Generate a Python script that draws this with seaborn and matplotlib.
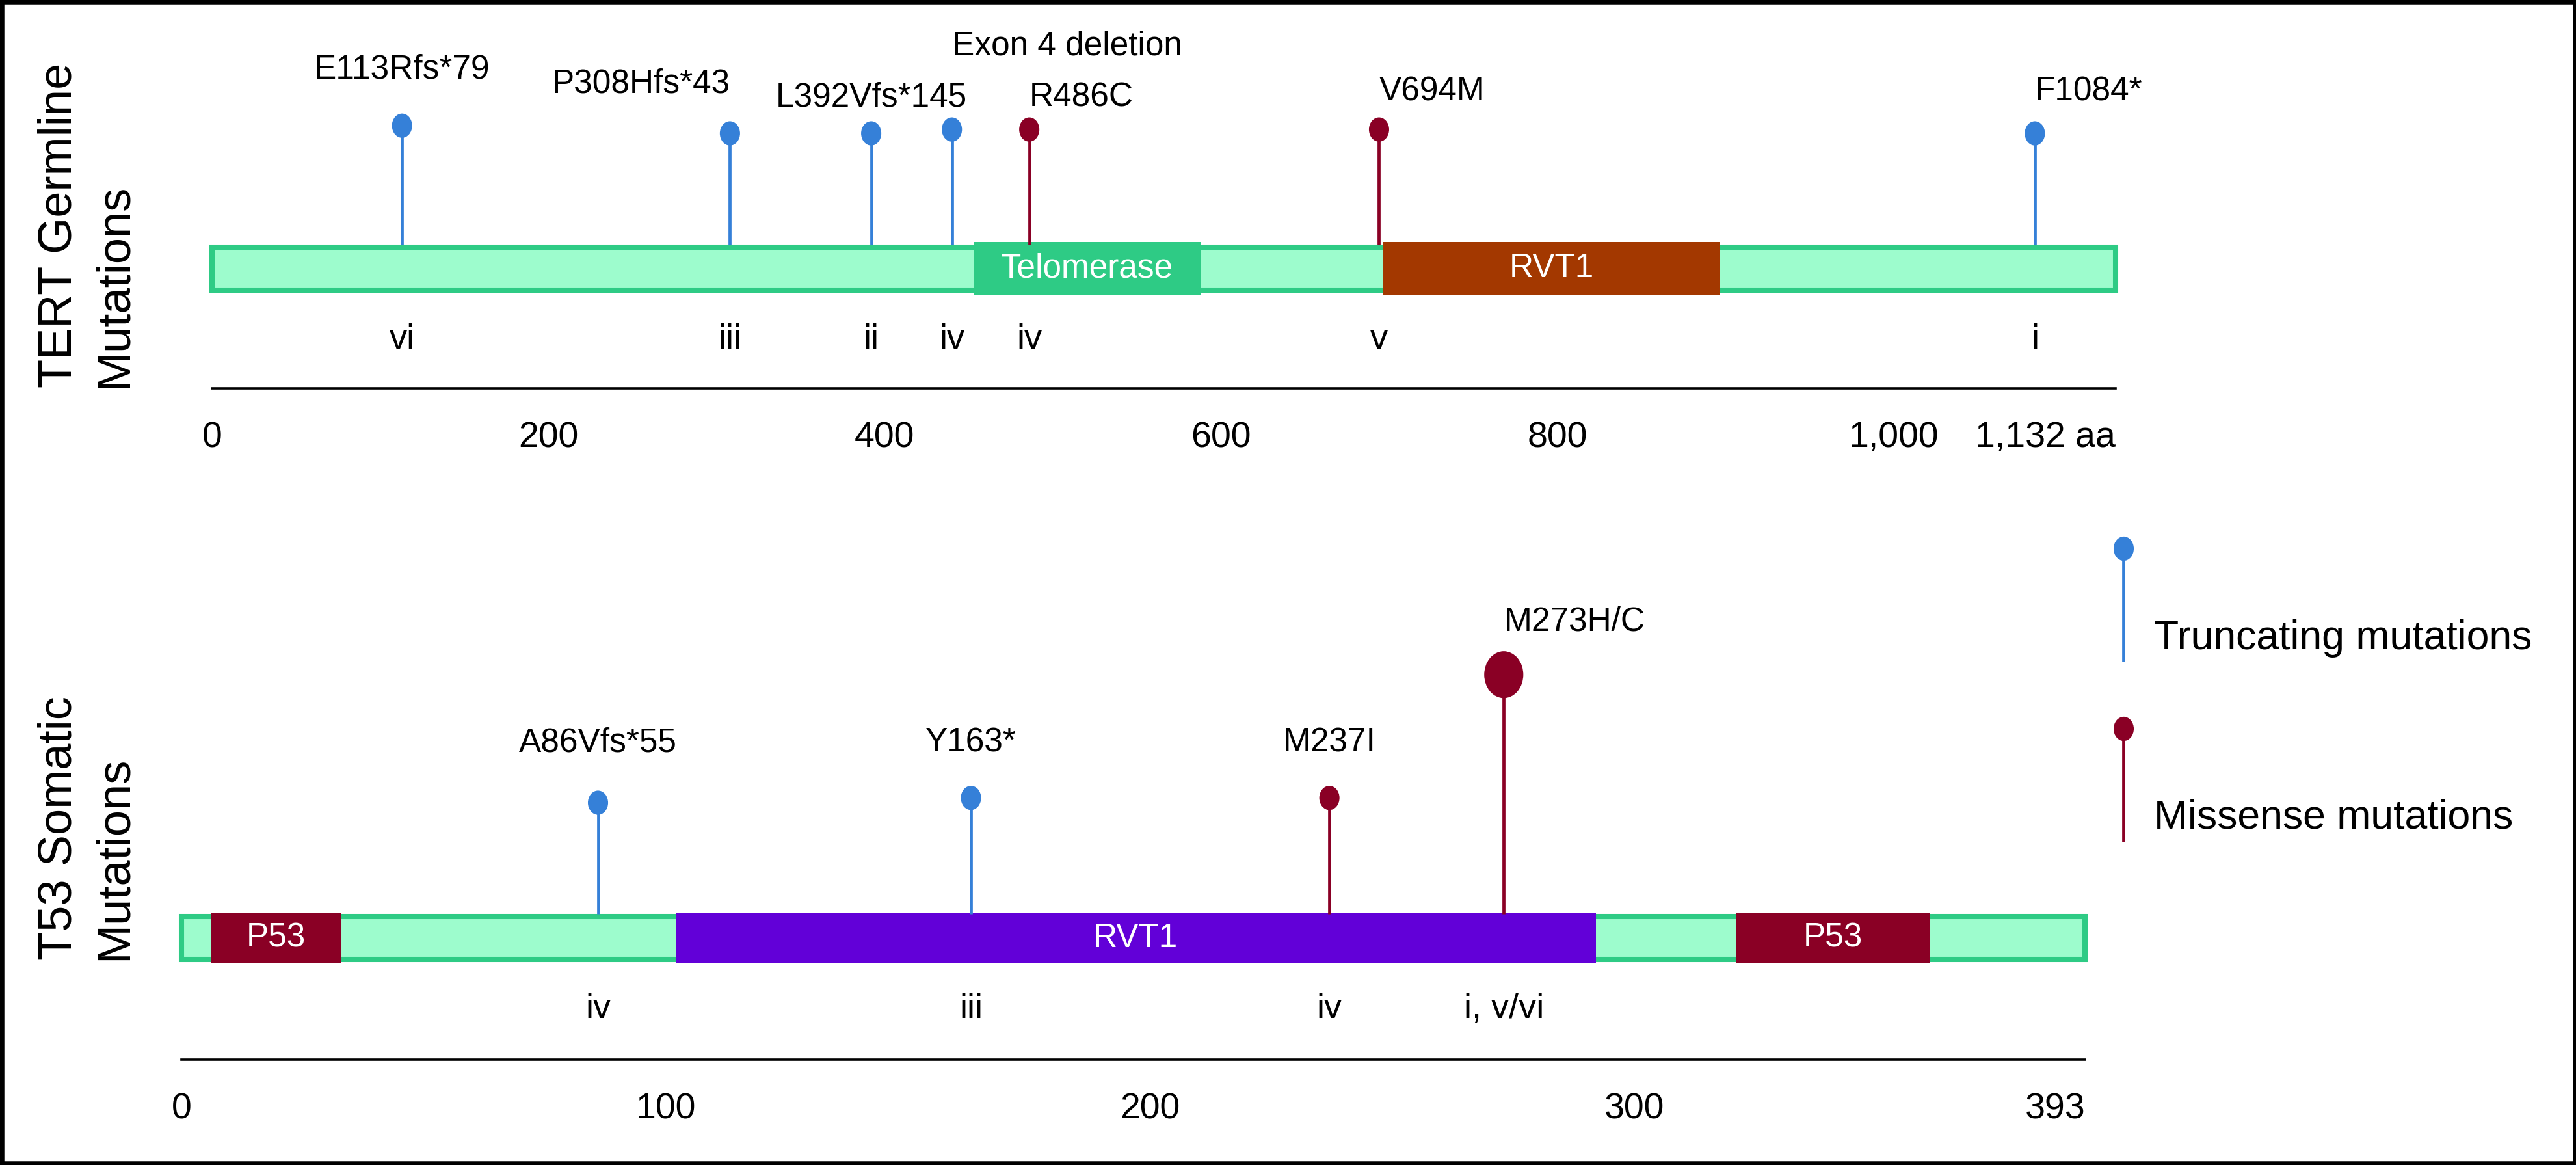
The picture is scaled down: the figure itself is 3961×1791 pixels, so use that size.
import numpy as np
import pandas as pd
import matplotlib
matplotlib.use("Agg")
import matplotlib.pyplot as plt
from matplotlib.path import Path
from matplotlib.patches import Rectangle
import seaborn as sns

# ---- TERT germline mutations ----
tert_length = 1132
tert_labels = ["E113Rfs*79", "P308Hfs*43", "L392Vfs*145", "Exon 4 deletion", "R486C", "V694M", "F1084*"]
tert_pos = [113, 308, 392, 440, 486, 694, 1084]
tert_kind = ["Truncating", "Truncating", "Truncating", "Truncating", "Missense", "Missense", "Truncating"]
tert_height = [2.97, 2.81, 2.81, 2.89, 2.89, 2.89, 2.81]
tert_head = ["small"] * 7
tert_cases = ["vi", "iii", "ii", "iv", "iv", "v", "i"]
tert_dom_names = ["Telomerase", "RVT1"]
tert_dom_start = [453, 696]
tert_dom_end = [588, 897]
tert_ticks = [0, 200, 400, 600, 800, 1000, 1132]
tert_ticklabels = ["0", "200", "400", "600", "800", "1,000", "1,132 aa"]

# ---- TP53 somatic mutations ----
tp53_length = 393
tp53_labels = ["A86Vfs*55", "Y163*", "M237I", "M273H/C"]
tp53_pos = [86, 163, 237, 273]
tp53_kind = ["Truncating", "Truncating", "Missense", "Missense"]
tp53_height = [2.81, 2.91, 2.91, 5.47]
tp53_head = ["small", "small", "small", "large"]
tp53_cases = ["iv", "iii", "iv", "i, v/vi"]
tp53_dom_names = ["P53", "RVT1", "P53"]
tp53_dom_start = [6, 102, 321]
tp53_dom_end = [33, 292, 361]
tp53_ticks = [0, 100, 200, 300, 393]
tp53_ticklabels = ["0", "100", "200", "300", "393"]

# label layout
tert_label_y = [4.14, 3.84, 3.55, 4.62, 3.55, 3.68, 3.68]
tert_label_ha = ["center", "right", "center", "left", "left", "left", "left"]
tp53_label_y = [4.05, 4.05, 4.05, 6.57]
tp53_label_ha = ["center", "center", "center", "left"]

PAL = {"Truncating": "#3580D8", "Missense": "#8A0025"}
FILL, EDGE = "#9DFCCD", "#2ECB85"
tert_dom_colors = [EDGE, "#A33800"]
tp53_dom_colors = ["#8A0025", "#6200D8", "#8A0025"]
HEAD_SIZES = {"small": 720, "large": 2700}

W, H, DPI = 3962, 1791, 100

sns.set_theme(style="white")
plt.rcParams["font.family"] = ["Liberation Sans", "DejaVu Sans"]

circ = Path.unit_circle()
head_marker = Path(circ.vertices * [1, 1.2], circ.codes)

fig = plt.figure(figsize=(W / DPI, H / DPI), dpi=DPI)


def panel_axes(left_px, right_px, center_px, unit_px, ylo, yhi):
    bottom_px = center_px - ylo * unit_px
    top_px = center_px - yhi * unit_px
    ax = fig.add_axes([left_px / W, 1 - bottom_px / H,
                       (right_px - left_px) / W, (bottom_px - top_px) / H])
    ax.set_ylim(ylo, yhi)
    ax.patch.set_alpha(0)
    return ax


def draw_panel(ax, length, dom_names, dom_start, dom_end, dom_colors, dom_half,
               labels, pos, kind, height, head, cases, label_y, label_ha,
               ticks, ticklabels):
    ax.set_xlim(0, length)
    # protein backbone
    ax.barh(0, length, left=0, height=0.89, color=FILL, edgecolor=EDGE,
            linewidth=5.8, clip_on=False, zorder=1)
    # domains
    widths = np.array(dom_end) - np.array(dom_start)
    ax.barh(np.zeros(len(dom_names)), widths, left=dom_start, height=2 * dom_half,
            color=dom_colors, linewidth=0, zorder=2)
    for name, s, e in zip(dom_names, dom_start, dom_end):
        ax.text((s + e) / 2, 0, name, color="white", ha="center", va="center",
                fontsize=37, zorder=4)

    df = pd.DataFrame({"pos": pos, "height": height, "kind": kind, "head": head})
    ax.vlines(df["pos"], 0.5, df["height"], colors=df["kind"].map(PAL),
              linewidth=3.4, zorder=3)
    sns.scatterplot(data=df, x="pos", y="height", hue="kind", palette=PAL,
                    size="head", sizes=HEAD_SIZES, marker=head_marker,
                    linewidth=0, legend=False, ax=ax, zorder=4, clip_on=False)

    for lab, p, ly, ha in zip(labels, pos, label_y, label_ha):
        ax.text(p, ly, lab, ha=ha, va="center", fontsize=37, color="black")
    for c, p in zip(cases, pos):
        ax.text(p, -1.47, c, ha="center", va="center", fontsize=39, color="black")

    ax.set_xticks(ticks, ticklabels)
    ax.get_xticklabels()[-1].set_horizontalalignment("right")
    ax.tick_params(axis="x", length=0, pad=36, labelsize=40, colors="black")
    ax.set_yticks([])
    ax.set_xlabel("")
    ax.set_ylabel("")
    for side in ["left", "top", "right"]:
        ax.spines[side].set_visible(False)
    ax.spines["bottom"].set_linewidth(2.6)
    ax.spines["bottom"].set_color("black")


ax_top = panel_axes(326, 3253, 413, 74, -2.49, 5.6)
draw_panel(ax_top, tert_length, tert_dom_names, tert_dom_start, tert_dom_end,
           tert_dom_colors, 0.56, tert_labels, tert_pos, tert_kind, tert_height,
           tert_head, tert_cases, tert_label_y, tert_label_ha,
           tert_ticks, tert_ticklabels)

ax_bot = panel_axes(279, 3206, 1442, 74, -2.53, 9.2)
draw_panel(ax_bot, tp53_length, tp53_dom_names, tp53_dom_start, tp53_dom_end,
           tp53_dom_colors, 0.52, tp53_labels, tp53_pos, tp53_kind, tp53_height,
           tp53_head, tp53_cases, tp53_label_y, tp53_label_ha,
           tp53_ticks, tp53_ticklabels)

# row titles
fig.text(134 / W, 1 - 596 / H, "TERT Germline\nMutations", rotation=90,
         ha="center", va="bottom", multialignment="left", fontsize=52,
         linespacing=1.35, color="black")
fig.text(134 / W, 1 - 1476 / H, "T53 Somatic\nMutations", rotation=90,
         ha="center", va="bottom", multialignment="left", fontsize=52,
         linespacing=1.35, color="black")

# legend drawn as lollipops
ax_leg = fig.add_axes([3200 / W, 1 - 1320 / H, 760 / W, 520 / H])
ax_leg.set_xlim(3200, 3960)
ax_leg.set_ylim(1320, 800)
ax_leg.axis("off")
for kind, y_head, y_text in [("Truncating", 843, 982), ("Missense", 1120, 1257)]:
    ax_leg.vlines(3265, y_head, y_head + 174, colors=PAL[kind], linewidth=3.4)
    ax_leg.scatter([3265], [y_head], s=HEAD_SIZES["small"], marker=head_marker,
                   color=PAL[kind], linewidth=0, zorder=3, clip_on=False)
    ax_leg.text(3312, y_text, f"{kind} mutations", ha="left", va="center",
                fontsize=45, color="black")

# outer frame
fig.add_artist(Rectangle((0, 0), 1, 1, transform=fig.transFigure, fill=False,
                         edgecolor="black", linewidth=9))

fig.savefig("out.png", dpi=DPI)
